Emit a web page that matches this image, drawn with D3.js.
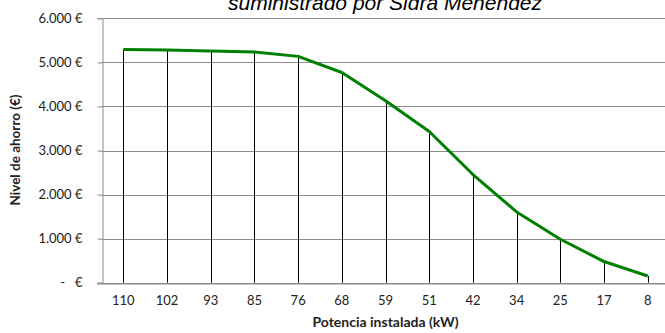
<!DOCTYPE html>
<html>
<head>
<meta charset="utf-8">
<script src="https://cdn.jsdelivr.net/npm/d3@7"></script>
<style>
  html, body { margin: 0; padding: 0; background: #fff; }
  svg { display: block; }
</style>
</head>
<body>
<svg id="chart" width="665" height="333"></svg>
<script>
// Installed power (kW) per scenario and the resulting savings (€)
const potencias = ["110", "102", "93", "85", "76", "68", "59", "51", "42", "34", "25", "17", "8"];
const ahorro = [5290, 5282, 5259, 5236, 5136, 4770, 4130, 3432, 2455, 1605, 986, 480, 152];
const yTicks = [0, 1000, 2000, 3000, 4000, 5000, 6000];

const titulo = "suministrado por Sidra Menéndez";
const tituloY = "Nivel de ahorro (€)";
const tituloX = "Potencia instalada (kW)";

const svg = d3.select("#chart");
const plotLeft = 101.5, plotRight = 669.6, plotTop = 18.3, plotBottom = 282.7;

const x = d3.scaleBand().domain(potencias).range([plotLeft, plotRight]).padding(0);
const y = d3.scaleLinear().domain([0, 6000]).range([plotBottom, plotTop]);

const fmtEuro = v => v === 0 ? "-   €" : d3.format(",")(v).replace(/,/g, ".") + " €";

// horizontal gridlines
svg.append("g")
  .selectAll("line")
  .data(yTicks)
  .join("line")
  .attr("x1", plotLeft).attr("x2", 665)
  .attr("y1", d => Math.round(y(d)) + 0.5).attr("y2", d => Math.round(y(d)) + 0.5)
  .attr("stroke", "#8c8c8c").attr("stroke-width", 1);

// y axis
const yAxis = svg.append("g")
  .attr("transform", `translate(${Math.round(plotLeft) + 0.5},0)`)
  .call(d3.axisLeft(y).tickValues(yTicks).tickSize(5).tickPadding(15).tickFormat(fmtEuro));
yAxis.select(".domain").attr("stroke", "#8c8c8c");
yAxis.selectAll(".tick line").attr("stroke", "#8c8c8c");
yAxis.selectAll(".tick text")
  .attr("font-family", "Lato, sans-serif").attr("font-size", "13px").attr("fill", "#222")
  .style("white-space", "pre");

// x axis baseline
const xAxis = svg.append("g")
  .attr("transform", `translate(0,${Math.round(plotBottom) + 0.5})`)
  .call(d3.axisBottom(x).tickSize(0).tickPadding(12));
xAxis.select(".domain").attr("d", `M${Math.round(plotLeft) - 5},0.5H665`).attr("stroke", "#8c8c8c");
xAxis.selectAll(".tick text")
  .attr("font-family", "Lato, sans-serif").attr("font-size", "13px").attr("fill", "#222");

const cx = d => x(d) + x.bandwidth() / 2;

// drop lines from each point down to the axis
svg.append("g")
  .selectAll("line")
  .data(potencias)
  .join("line")
  .attr("x1", d => Math.round(cx(d)) + 0.5).attr("x2", d => Math.round(cx(d)) + 0.5)
  .attr("y1", (d, i) => y(ahorro[i])).attr("y2", plotBottom)
  .attr("stroke", "#000").attr("stroke-width", 1);

// savings line
const line = d3.line().x((d, i) => cx(potencias[i])).y(d => y(d));
svg.append("path")
  .datum(ahorro)
  .attr("d", line)
  .attr("fill", "none")
  .attr("stroke", "#008000")
  .attr("stroke-width", 3)
  .attr("stroke-linejoin", "round");

// titles
svg.append("text")
  .attr("x", 385).attr("y", 10)
  .attr("text-anchor", "middle")
  .attr("font-family", "Liberation Sans, Arial, sans-serif")
  .attr("font-style", "italic")
  .attr("font-size", "21px")
  .attr("fill", "#000")
  .text(titulo);

svg.append("text")
  .attr("transform", `translate(20,150) rotate(-90)`)
  .attr("text-anchor", "middle")
  .attr("font-family", "Lato, sans-serif")
  .attr("font-weight", "bold")
  .attr("font-size", "13.5px")
  .attr("fill", "#222")
  .text(tituloY);

svg.append("text")
  .attr("x", 385.5).attr("y", 327)
  .attr("text-anchor", "middle")
  .attr("font-family", "Lato, sans-serif")
  .attr("font-weight", "bold")
  .attr("font-size", "14px")
  .attr("fill", "#222")
  .text(tituloX);
</script>
</body>
</html>
